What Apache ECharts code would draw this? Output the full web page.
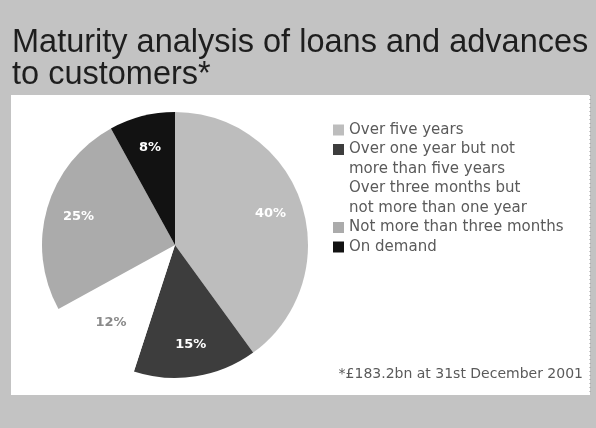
<!DOCTYPE html>
<html>
<head>
<meta charset="utf-8">
<script src="https://cdn.jsdelivr.net/npm/echarts@6/dist/echarts.min.js"></script>
<style>
html,body{margin:0;padding:0;background:#c3c3c3;}
#chart{width:596px;height:428px;}
</style>
</head>
<body>
<div id="chart"></div>
<script>
// ---- data ----
const categories = [
  "Over five years",
  "Over one year but not\nmore than five years",
  "Over three months but\nnot more than one year",
  "Not more than three months",
  "On demand"
];
const values = [40, 15, 12, 25, 8];
const valueLabels = ["40%", "15%", "12%", "25%", "8%"];
const titleText = "Maturity analysis of loans and advances\nto customers*";
const footnote = "*£183.2bn at 31st December 2001";

// ---- styles ----
const colors = ["#bdbdbd", "#3d3d3d", "#ffffff", "#ababab", "#121212"];
const labelColors = ["#ffffff", "#ffffff", "#8a8a8a", "#ffffff", "#ffffff"];
const legendCenters = [130, 149.5, 188.5, 227.5, 247];
const LH = 19.5;

const chart = echarts.init(document.getElementById('chart'));

const legends = categories.map((name, i) => {
  const multi = name.indexOf("\n") >= 0;
  return {
    orient: 'vertical',
    left: 333,
    top: legendCenters[i] - (multi ? LH * 1.5 : LH / 2),
    padding: 0,
    itemWidth: 11,
    itemHeight: 11,
    itemGap: 0,
    icon: 'rect',
    selectedMode: false,
    formatter: n => (multi ? "\n" + n : n),
    data: [{ name: name, itemStyle: { color: colors[i] } }],
    textStyle: {
      fontFamily: 'DejaVu Sans',
      fontSize: 15,
      lineHeight: LH,
      color: '#5a5a5a'
    }
  };
});

const option = {
  backgroundColor: '#c3c3c3',
  animation: false,
  graphic: [
    { type: 'rect', z: -10, shape: { x: 11, y: 95, width: 579, height: 300 }, style: { fill: '#ffffff' } },
    { type: 'line', z: -9, shape: { x1: 590, y1: 95, x2: 590, y2: 395 }, style: { stroke: '#9a9a9a', lineWidth: 1, lineDash: [1, 3] } }
  ],
  title: [
    {
      text: titleText,
      left: 12, top: 27, padding: 0,
      textStyle: { fontFamily: 'Liberation Sans', fontSize: 32.5, lineHeight: 32, fontWeight: 'normal', color: '#1e1e1e' }
    },
    {
      text: footnote,
      right: 13, top: 367, padding: 0,
      textStyle: { fontFamily: 'DejaVu Sans', fontSize: 14, fontWeight: 'normal', color: '#5a5a5a' }
    }
  ],
  legend: legends,
  series: [
    {
      type: 'pie',
      center: [175, 245],
      radius: 133,
      startAngle: 90,
      clockwise: true,
      silent: true,
      label: { show: false },
      labelLine: { show: false },
      itemStyle: { borderWidth: 0 },
      data: categories.map((n, i) => ({ name: n, value: values[i], itemStyle: { color: colors[i] } }))
    },
    {
      type: 'pie',
      center: [175, 245],
      radius: [62, 133],
      startAngle: 90,
      clockwise: true,
      silent: true,
      legendHoverLink: false,
      itemStyle: { color: 'rgba(0,0,0,0)', borderWidth: 0 },
      labelLine: { show: false },
      data: categories.map((n, i) => ({
        name: n, value: values[i],
        label: {
          show: true, position: 'inside', formatter: valueLabels[i],
          fontFamily: 'DejaVu Sans', fontSize: 13, fontWeight: 'bold', color: labelColors[i]
        }
      }))
    }
  ]
};
chart.setOption(option);
</script>
</body>
</html>
